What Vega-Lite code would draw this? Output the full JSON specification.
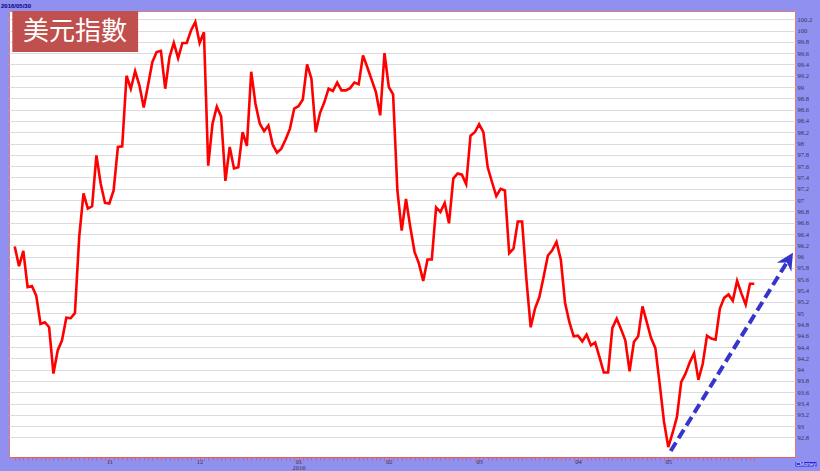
{
  "$schema": "https://vega.github.io/schema/vega-lite/v6.json",
  "width": 786,
  "height": 446,
  "autosize": {"type": "none"},
  "padding": {"left": 9, "top": 11, "right": 25, "bottom": 14},
  "background": "#9090f0",
  "config": {"view": {"fill": "#ffffff", "stroke": "#e07a7a", "strokeWidth": 1}},
  "datasets": {
    "dxy": [
      {"i":0,"v":96.18},{"i":1,"v":95.83},{"i":2,"v":96.10},{"i":3,"v":95.46},{"i":4,"v":95.48},
      {"i":5,"v":95.31},{"i":6,"v":94.81},{"i":7,"v":94.84},{"i":8,"v":94.75},{"i":9,"v":93.93},
      {"i":10,"v":94.34},{"i":11,"v":94.52},{"i":12,"v":94.92},{"i":13,"v":94.91},{"i":14,"v":95.00},
      {"i":15,"v":96.35},{"i":16,"v":97.12},{"i":17,"v":96.85},{"i":18,"v":96.89},{"i":19,"v":97.79},
      {"i":20,"v":97.29},{"i":21,"v":96.95},{"i":22,"v":96.94},{"i":23,"v":97.17},{"i":24,"v":97.94},
      {"i":25,"v":97.95},{"i":26,"v":99.20},{"i":27,"v":98.97},{"i":28,"v":99.28},{"i":29,"v":99.03},
      {"i":30,"v":98.64},{"i":31,"v":99.03},{"i":32,"v":99.44},{"i":33,"v":99.62},{"i":34,"v":99.64},
      {"i":35,"v":98.97},{"i":36,"v":99.53},{"i":37,"v":99.78},{"i":38,"v":99.51},{"i":39,"v":99.78},
      {"i":40,"v":99.78},{"i":41,"v":100.00},{"i":42,"v":100.15},{"i":43,"v":99.78},{"i":44,"v":99.97},
      {"i":45,"v":97.61},{"i":46,"v":98.35},{"i":47,"v":98.65},{"i":48,"v":98.48},{"i":49,"v":97.34},
      {"i":50,"v":97.94},{"i":51,"v":97.56},{"i":52,"v":97.58},{"i":53,"v":98.20},{"i":54,"v":97.96},
      {"i":55,"v":99.27},{"i":56,"v":98.70},{"i":57,"v":98.35},{"i":58,"v":98.22},{"i":59,"v":98.32},
      {"i":60,"v":97.98},{"i":61,"v":97.84},{"i":62,"v":97.91},{"i":63,"v":98.07},{"i":64,"v":98.26},
      {"i":65,"v":98.62},{"i":66,"v":98.66},{"i":67,"v":98.78},{"i":68,"v":99.40},{"i":69,"v":99.15},
      {"i":70,"v":98.20},{"i":71,"v":98.54},{"i":72,"v":98.73},{"i":73,"v":98.97},{"i":74,"v":98.93},
      {"i":75,"v":99.08},{"i":76,"v":98.94},{"i":77,"v":98.94},{"i":78,"v":98.98},{"i":79,"v":99.08},
      {"i":80,"v":99.05},{"i":81,"v":99.56},{"i":82,"v":99.35},{"i":83,"v":99.13},{"i":84,"v":98.91},
      {"i":85,"v":98.50},{"i":86,"v":99.60},{"i":87,"v":99.00},{"i":88,"v":98.87},{"i":89,"v":97.17},
      {"i":90,"v":96.46},{"i":91,"v":97.02},{"i":92,"v":96.52},{"i":93,"v":96.08},{"i":94,"v":95.88},
      {"i":95,"v":95.57},{"i":96,"v":95.95},{"i":97,"v":95.95},{"i":98,"v":96.87},{"i":99,"v":96.79},
      {"i":100,"v":96.95},{"i":101,"v":96.59},{"i":102,"v":97.38},{"i":103,"v":97.47},{"i":104,"v":97.45},
      {"i":105,"v":97.28},{"i":106,"v":98.14},{"i":107,"v":98.20},{"i":108,"v":98.34},{"i":109,"v":98.20},
      {"i":110,"v":97.58},{"i":111,"v":97.32},{"i":112,"v":97.07},{"i":113,"v":97.20},{"i":114,"v":97.17},
      {"i":115,"v":96.06},{"i":116,"v":96.14},{"i":117,"v":96.62},{"i":118,"v":96.62},{"i":119,"v":95.60},
      {"i":120,"v":94.75},{"i":121,"v":95.08},{"i":122,"v":95.28},{"i":123,"v":95.64},{"i":124,"v":96.02},
      {"i":125,"v":96.11},{"i":126,"v":96.26},{"i":127,"v":95.95},{"i":128,"v":95.18},{"i":129,"v":94.84},
      {"i":130,"v":94.59},{"i":131,"v":94.60},{"i":132,"v":94.50},{"i":133,"v":94.62},{"i":134,"v":94.43},
      {"i":135,"v":94.48},{"i":136,"v":94.22},{"i":137,"v":93.95},{"i":138,"v":93.95},{"i":139,"v":94.74},
      {"i":140,"v":94.90},{"i":141,"v":94.72},{"i":142,"v":94.52},{"i":143,"v":93.97},{"i":144,"v":94.49},
      {"i":145,"v":94.59},{"i":146,"v":95.12},{"i":147,"v":94.84},{"i":148,"v":94.56},{"i":149,"v":94.38},
      {"i":150,"v":93.75},{"i":151,"v":93.08},{"i":152,"v":92.63},{"i":153,"v":92.88},{"i":154,"v":93.16},
      {"i":155,"v":93.78},{"i":156,"v":93.93},{"i":157,"v":94.13},{"i":158,"v":94.29},{"i":159,"v":93.82},
      {"i":160,"v":94.10},{"i":161,"v":94.60},{"i":162,"v":94.55},{"i":163,"v":94.53},{"i":164,"v":95.08},
      {"i":165,"v":95.27},{"i":166,"v":95.33},{"i":167,"v":95.22},{"i":168,"v":95.57},{"i":169,"v":95.35},
      {"i":170,"v":95.15},{"i":171,"v":95.52},{"i":172,"v":95.52}
    ]
  },
  "layer": [
    {
      "data": {"name": "dxy"},
      "mark": {"type": "line", "color": "#ff0000", "strokeWidth": 2.6},
      "encoding": {
        "x": {
          "field": "i", "type": "quantitative",
          "scale": {"domain": [-1.33, 181.47], "nice": false, "zero": false},
          "axis": {
            "orient": "bottom", "title": null, "grid": false, "tickCount": 1000,
            "values": [0,1,2,3,4,5,6,7,8,9,10,11,12,13,14,15,16,17,18,19,20,21,22,23,24,25,26,27,28,29,30,31,32,33,34,35,36,37,38,39,40,41,42,43,44,45,46,47,48,49,50,51,52,53,54,55,56,57,58,59,60,61,62,63,64,65,66,67,68,69,70,71,72,73,74,75,76,77,78,79,80,81,82,83,84,85,86,87,88,89,90,91,92,93,94,95,96,97,98,99,100,101,102,103,104,105,106,107,108,109,110,111,112,113,114,115,116,117,118,119,120,121,122,123,124,125,126,127,128,129,130,131,132,133,134,135,136,137,138,139,140,141,142,143,144,145,146,147,148,149,150,151,152,153,154,155,156,157,158,159,160,161,162,163,164,165,166,167,168,169,170,171,172],
            "labelExpr": "datum.value == 22 ? '11' : datum.value == 43 ? '12' : datum.value == 66 ? ['01', '2016'] : datum.value == 87 ? '02' : datum.value == 108 ? '03' : datum.value == 131 ? '04' : datum.value == 152 ? '05' : ''",
            "tickSize": {"condition": {"test": "indexof([22,43,66,87,108,131,152], datum.value) >= 0", "value": 5}, "value": 3},
            "tickColor": "#e06060",
            "domainColor": "#e06060",
            "labelFont": "Liberation Serif", "labelFontSize": 6.5, "labelColor": "#333355",
            "labelPadding": -4, "labelOverlap": false, "labelFlush": false, "labelBound": false,
            "labelLineHeight": 6.5
          }
        },
        "y": {
          "field": "v", "type": "quantitative",
          "scale": {"domain": [92.455, 100.345], "nice": false, "zero": false},
          "axis": {
            "orient": "right", "title": null, "tickCount": 1000,
            "values": [92.8,93,93.2,93.4,93.6,93.8,94,94.2,94.4,94.6,94.8,95,95.2,95.4,95.6,95.8,96,96.2,96.4,96.6,96.8,97,97.2,97.4,97.6,97.8,98,98.2,98.4,98.6,98.8,99,99.2,99.4,99.6,99.8,100,100.2],
            "format": ".1~f",
            "grid": true, "gridColor": "#dcdcdc", "gridWidth": 1,
            "domain": false, "ticks": false, "tickSize": 0,
            "labelFont": "Liberation Serif", "labelFontSize": 6.5, "labelColor": "#333355",
            "labelPadding": 2, "labelOverlap": false, "labelFlush": false, "labelBound": false
          }
        }
      }
    },
    {
      "data": {"values": [{}]},
      "mark": {"type": "rect", "color": "#c0504d"},
      "encoding": {
        "x": {"datum": -0.56, "type": "quantitative"},
        "x2": {"datum": 28.7},
        "y": {"datum": 100.345, "type": "quantitative"},
        "y2": {"datum": 99.62}
      }
    },
    {
      "data": {"values": [{}]},
      "mark": {"type": "text", "text": "美元指數", "font": "Noto Sans CJK TC", "fontSize": 26, "color": "#ffffff", "align": "center", "baseline": "middle"},
      "encoding": {
        "x": {"datum": 14.02, "type": "quantitative"},
        "y": {"datum": 99.98, "type": "quantitative"}
      }
    },
    {
      "data": {"values": [{}]},
      "mark": {"type": "text", "text": "2016/05/30", "font": "Liberation Sans", "fontSize": 6, "fontWeight": "bold", "color": "#000080", "align": "left", "baseline": "middle"},
      "encoding": {
        "x": {"datum": -3.19, "type": "quantitative"},
        "y": {"datum": 100.434, "type": "quantitative"}
      }
    },
    {
      "data": {"values": [{}]},
      "mark": {"type": "rect", "color": "#2323dd"},
      "encoding": {
        "x": {"datum": 181.58, "type": "quantitative"},
        "x2": {"datum": 186.47},
        "y": {"datum": 92.366, "type": "quantitative"},
        "y2": {"datum": 92.287}
      }
    },
    {
      "data": {"values": [{}]},
      "mark": {"type": "text", "text": "CMoney", "font": "Liberation Sans", "fontSize": 5.5, "color": "#ffffff", "align": "center", "baseline": "middle"},
      "encoding": {
        "x": {"datum": 184.0, "type": "quantitative"},
        "y": {"datum": 92.326, "type": "quantitative"}
      }
    },
    {
      "data": {"values": [{}]},
      "mark": {"type": "rule", "color": "#3535cc", "strokeWidth": 4, "strokeDash": [10, 5], "strokeCap": "butt"},
      "encoding": {
        "x": {"datum": 152.56, "type": "quantitative"},
        "x2": {"datum": 180.0},
        "y": {"datum": 92.56, "type": "quantitative"},
        "y2": {"datum": 95.95}
      }
    },
    {
      "data": {"values": [{}]},
      "mark": {"type": "point", "shape": "M0,0 L0.95,1.9 L0,1.3 L-0.95,1.9 Z", "filled": true, "color": "#3535cc", "opacity": 1, "size": 324, "angle": 31.6},
      "encoding": {
        "x": {"datum": 181.0, "type": "quantitative"},
        "y": {"datum": 96.07, "type": "quantitative"}
      }
    }
  ]
}
